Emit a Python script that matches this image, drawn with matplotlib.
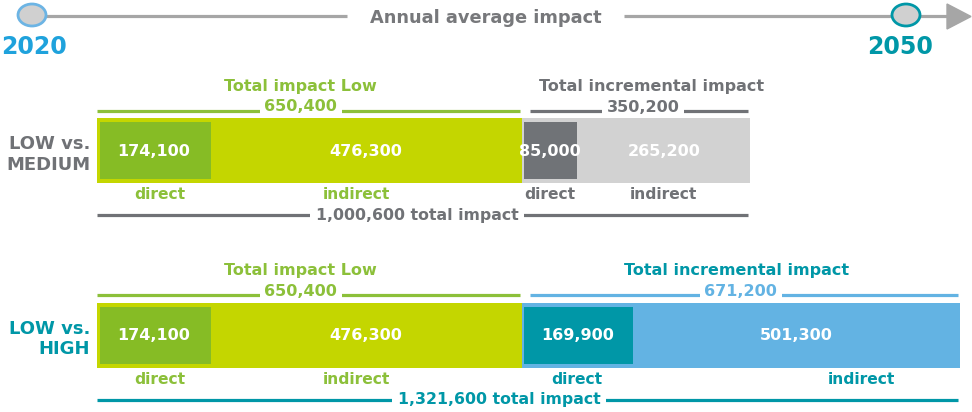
import matplotlib
matplotlib.use("Agg")
import matplotlib.pyplot as plt
from matplotlib.patches import Ellipse, Polygon

# ---------------- data ----------------
scenarios = ["LOW vs.\nMEDIUM", "LOW vs.\nHIGH"]
low_direct = [174100, 174100]
low_indirect = [476300, 476300]
inc_direct = [85000, 169900]
inc_indirect = [265200, 501300]
years = ["2020", "2050"]
title = "Annual average impact"
low_title = "Total impact Low"
inc_title = "Total incremental impact"
seg_labels = ["direct", "indirect"]

# ---------------- styles ----------------
LIME = "#C4D600"
DGREEN = "#86BC25"
GREEN_TXT = "#8CC03A"
GRAY_D = "#707377"
GRAY_L = "#D2D2D2"
GRAY_TXT = "#707276"
TEAL = "#0097A7"
LBLUE = "#63B3E3"
BLUE_2020 = "#1FA2DC"
LINE_GRAY = "#A6A6A6"

row_style = [
    dict(inc_light=GRAY_L, inc_dark=GRAY_D, inc_line=GRAY_TXT, inc_txt=GRAY_TXT,
         inc_val=GRAY_TXT, tot=GRAY_TXT, lab=GRAY_TXT, ind_frac=0.5,
         inc_title_frac=0.57, inc_val_frac=0.53, tot_frac=0.49),
    dict(inc_light=LBLUE, inc_dark=TEAL, inc_line=LBLUE, inc_txt=TEAL,
         inc_val=LBLUE, tot=TEAL, lab=TEAL, ind_frac=0.70,
         inc_title_frac=0.49, inc_val_frac=0.50, tot_frac=0.466),
]

FONT = "DejaVu Sans"
W, H = 972, 412
fig = plt.figure(figsize=(W / 100, H / 100), dpi=100)

# pixel overlay for decoration
axp = fig.add_axes([0, 0, 1, 1])
axp.set_xlim(0, W)
axp.set_ylim(H, 0)
axp.axis("off")

# data axes: x in impact units
x0_px = 97
scale = 863 / 1321600.0
ax = fig.add_axes([0, 0, 1, 1], facecolor="none")
ax.set_xlim(-x0_px / scale, (W - x0_px) / scale)
ax.set_ylim(H, 0)
ax.axis("off")

# ---------------- timeline ----------------
axp.plot([32, 347], [16, 16], color=LINE_GRAY, lw=2.3, solid_capstyle="butt", zorder=1)
axp.plot([624, 950], [16, 16], color=LINE_GRAY, lw=2.3, solid_capstyle="butt", zorder=1)
axp.add_patch(Polygon([[947, 4], [971, 16.5], [947, 29]], closed=True, color=LINE_GRAY, zorder=1))
axp.text(486, 18, title, ha="center", va="center", fontsize=12.8, fontweight="bold",
         color="#77787B", family=FONT, zorder=2)
axp.add_patch(Ellipse((32, 15), 28, 22, fc="#D0D0D0", ec="#6CB4E4", lw=2, zorder=3))
axp.add_patch(Ellipse((906, 15), 28, 22, fc="#D0D0D0", ec=TEAL, lw=2, zorder=3))
axp.text(34, 47, years[0], ha="center", va="center", fontsize=17, fontweight="bold",
         color=BLUE_2020, family=FONT)
axp.text(900, 47, years[1], ha="center", va="center", fontsize=17, fontweight="bold",
         color=TEAL, family=FONT)

# ---------------- bars ----------------
bar_y = [150.5, 335]
bar_h = 65
inner_h = 57
inset = 2.5 / scale
lw_line = 2.3
bb = dict(boxstyle="square,pad=0.3", fc="white", ec="none")
BFS = 11.5   # bracket text size
LFS = 11.2   # segment label size

for i, y in enumerate(bar_y):
    st = row_style[i]
    ld, li, idd, iii = low_direct[i], low_indirect[i], inc_direct[i], inc_indirect[i]
    low_tot = ld + li
    inc_tot = idd + iii
    grand = low_tot + inc_tot

    ax.barh(y, low_tot, left=0, height=bar_h, color=LIME, zorder=2)
    ax.barh(y, ld - inset, left=inset, height=inner_h, color=DGREEN, zorder=3)
    ax.barh(y, inc_tot, left=low_tot, height=bar_h, color=st["inc_light"], zorder=2)
    ax.barh(y, idd - inset, left=low_tot + inset, height=inner_h, color=st["inc_dark"], zorder=3)

    vfs = 11.5
    for xc, v in [(ld / 2, ld), (ld + li / 2, li), (low_tot + idd / 2, idd),
                  (low_tot + idd + iii / 2, iii)]:
        ax.text(xc, y + 1, f"{v:,}", ha="center", va="center", fontsize=vfs,
                fontweight="bold", color="white", family=FONT, zorder=5)

    # top brackets
    yb = y - 40
    ax.plot([0, low_tot - 2 / scale], [yb, yb], color=GREEN_TXT, lw=lw_line,
            solid_capstyle="butt", zorder=1)
    ax.text(low_tot * 0.48, yb - 4, f"{low_tot:,}", ha="center", va="center",
            fontsize=BFS, fontweight="bold", color=GREEN_TXT, family=FONT, bbox=bb, zorder=1.5)
    ax.text(low_tot * 0.48, yb - 24, low_title, ha="center", va="center",
            fontsize=BFS, fontweight="bold", color=GREEN_TXT, family=FONT, zorder=4)

    ax.plot([low_tot + 8 / scale, grand - 2 / scale], [yb, yb], color=st["inc_line"],
            lw=lw_line, solid_capstyle="butt", zorder=1)
    ax.text(low_tot + inc_tot * st["inc_val_frac"], yb - 3, f"{inc_tot:,}", ha="center",
            va="center", fontsize=BFS, fontweight="bold", color=st["inc_val"],
            family=FONT, bbox=bb, zorder=1.5)
    ax.text(low_tot + inc_tot * st["inc_title_frac"], yb - 24, inc_title, ha="center",
            va="center", fontsize=BFS, fontweight="bold", color=st["inc_txt"],
            family=FONT, zorder=4)

    # segment labels
    yl = y + 44
    ax.text(ld / 2 + 6 / scale, yl, seg_labels[0], ha="center", va="center", fontsize=LFS,
            fontweight="bold", color=GREEN_TXT, family=FONT)
    ax.text(ld + li * 0.47, yl, seg_labels[1], ha="center", va="center", fontsize=LFS,
            fontweight="bold", color=GREEN_TXT, family=FONT)
    ax.text(low_tot + idd / 2, yl, seg_labels[0], ha="center", va="center", fontsize=LFS,
            fontweight="bold", color=st["lab"], family=FONT)
    ax.text(low_tot + idd + iii * st["ind_frac"], yl, seg_labels[1], ha="center",
            va="center", fontsize=LFS, fontweight="bold", color=st["lab"], family=FONT)

    # total line
    yt = y + 64.5
    ax.plot([0, grand - 2 / scale], [yt, yt], color=st["tot"], lw=lw_line,
            solid_capstyle="butt", zorder=1)
    ax.text(grand * st["tot_frac"], yt, f"{grand:,} total impact", ha="center", va="center",
            fontsize=11.3, fontweight="bold", color=st["tot"], family=FONT,
            bbox=dict(boxstyle="square,pad=0.35", fc="white", ec="none"), zorder=1.5)

    # row label
    axp.text(90, y + 4, scenarios[i], ha="right", va="center", fontsize=13,
             fontweight="bold", color=st["lab"], family=FONT, linespacing=1.15)

fig.savefig("out.png", dpi=100)
